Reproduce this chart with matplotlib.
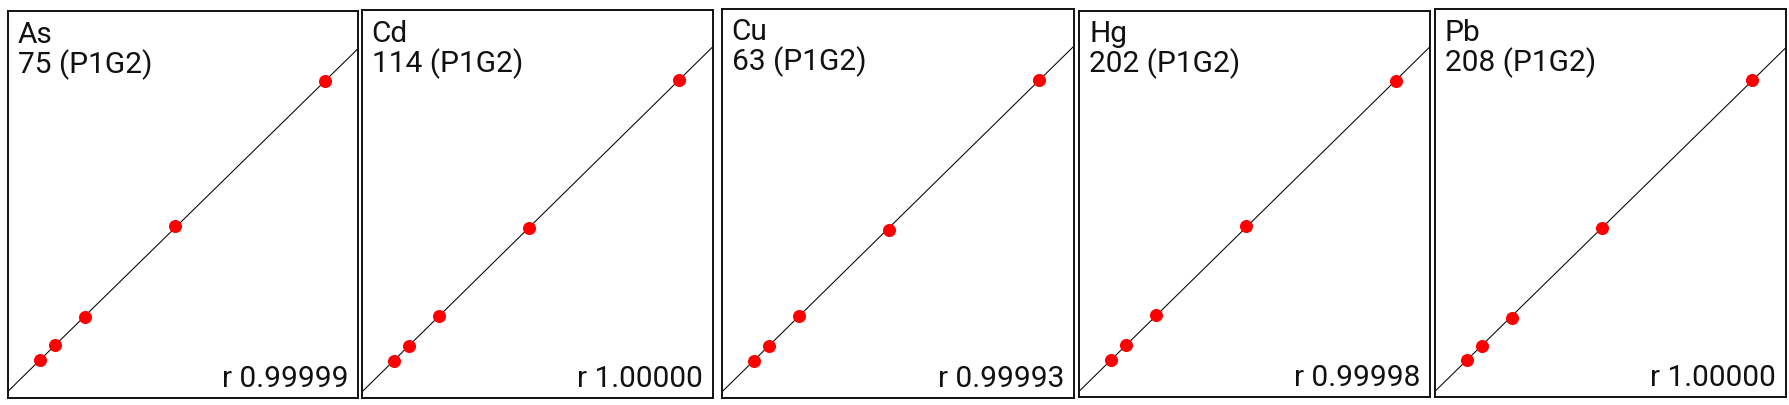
import numpy as np
import matplotlib
matplotlib.use("Agg")
import matplotlib.pyplot as plt

# ---- data ----
elements = ["As", "Cd", "Cu", "Hg", "Pb"]
isotopes = ["75 (P1G2)", "114 (P1G2)", "63 (P1G2)", "202 (P1G2)", "208 (P1G2)"]
r_labels = ["r 0.99999", "r 1.00000", "r 0.99993", "r 0.99998", "r 1.00000"]
conc = [1, 2, 4, 10, 20]
resp_as = [2.55, 3.51, 5.38, 11.45, 21.11]
resp_cd = [2.49, 3.45, 5.49, 11.31, 21.18]
resp_cu = [2.49, 3.45, 5.49, 11.22, 21.22]
resp_hg = [2.49, 3.45, 5.45, 11.38, 21.09]
resp_pb = [2.49, 3.45, 5.31, 11.29, 21.15]
responses = [resp_as, resp_cd, resp_cu, resp_hg, resp_pb]

# ---- layout (pixel boxes: left, right, top, bottom) ----
W, H = 1789, 405
boxes = [(8, 358, 11, 398), (361.7, 713, 10, 398), (721.7, 1074, 8.5, 398),
         (1079.3, 1430, 10.7, 397), (1434.7, 1785.7, 9.3, 397.3)]
unit_px = 15.0       # pixels per data unit
x_origin_px = 17.0   # where concentration 0 sits from the panel's left edge

plt.rcParams['font.family'] = ['Roboto', 'DejaVu Sans']
fig = plt.figure(figsize=(W / 100, H / 100), dpi=100)

for i in range(5):
    L, R, T, B = boxes[i]
    ax = fig.add_axes([L / W, 1 - B / H, (R - L) / W, (B - T) / H])
    xmin = -x_origin_px / unit_px
    xmax = (R - L - x_origin_px) / unit_px
    ymax = (B - T) / unit_px
    ax.set_xlim(xmin, xmax)
    ax.set_ylim(0, ymax)

    x = np.array(conc, dtype=float)
    y = np.array(responses[i], dtype=float)
    slope, icpt = np.polyfit(x, y, 1, w=1 / np.sqrt(x))
    xl = np.array([xmin, xmax])
    ax.plot(xl, slope * xl + icpt, color='black', lw=0.75, zorder=2)
    ax.plot(x, y, 'o', color='#ff0000', markersize=9.4, markeredgewidth=0, zorder=3)

    ax.set_xticks([])
    ax.set_yticks([])
    for sp in ax.spines.values():
        sp.set_linewidth(1.4)
        sp.set_color('#111111')

    ax.annotate(elements[i], xy=(0, 1), xycoords='axes fraction',
                xytext=(10, -31.7), textcoords='offset pixels',
                ha='left', va='baseline', fontsize=21.5, color='#111111')
    ax.annotate(isotopes[i], xy=(0, 1), xycoords='axes fraction',
                xytext=(10, -61.7), textcoords='offset pixels',
                ha='left', va='baseline', fontsize=21.5, color='#111111')
    ax.annotate(r_labels[i], xy=(1, 0), xycoords='axes fraction',
                xytext=(-9.7, 11.3), textcoords='offset pixels',
                ha='right', va='baseline', fontsize=21.5, color='#111111')

fig.savefig("out.png", dpi=100)
